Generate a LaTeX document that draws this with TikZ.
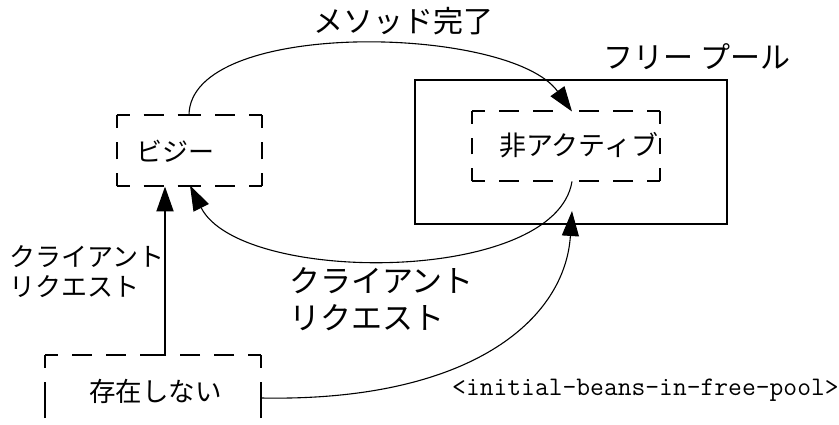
\documentclass[tikz,border=0pt]{standalone}
\usepackage{fontspec}
\setmainfont{Noto Sans CJK JP}
\usetikzlibrary{arrows.meta}
\tikzset{
  dbox/.style={minimum width=#1, inner sep=0pt, outer sep=0pt},
  dside/.style={line width=2pt, dash pattern=on 20pt off 14pt, dash phase=7pt},
  pool/.style={draw, line width=2pt, inner sep=0pt, outer sep=0pt},
  conn/.style={line width=1.1pt, -{Triangle[length=25pt,width=17pt]}},
  lbl/.style={inner sep=0pt, anchor=west},
  jp/.style={font=\fontsize{26pt}{30pt}\selectfont},
  jpbig/.style={font=\fontsize{31pt}{37pt}\selectfont},
  mono/.style={font=\ttfamily\fontsize{26.8pt}{28pt}\selectfont},
}
\begin{document}
\begin{tikzpicture}[x=1pt,y=-1pt]
\clip (0,0) rectangle (839,425);
\fill[white] (0,0) rectangle (839,425);
% boxes
\node[dbox=145pt, minimum height=71pt] (busy) at (189,151) {};
\node[pool, minimum width=312pt, minimum height=144pt] (pool) at (571,152) {};
\node[dbox=188pt, minimum height=70pt] (inact) at (566,146.5) {};
\node[dbox=216pt, minimum height=90pt] (none) at (153,400) {};
% dashed outlines, drawn from every corner towards the middle of each side
\foreach \b in {busy,inact,none}{
  \draw[dside] (\b.north west) -- (\b.north);
  \draw[dside] (\b.north east) -- (\b.north);
  \draw[dside] (\b.south west) -- (\b.south);
  \draw[dside] (\b.south east) -- (\b.south);
  \draw[dside] (\b.north west) -- (\b.west);
  \draw[dside] (\b.south west) -- (\b.west);
  \draw[dside] (\b.north east) -- (\b.east);
  \draw[dside] (\b.south east) -- (\b.east);
}
% texts
\node[lbl, jp] (tbusy) at (136,151) {ビジー};
\node[lbl, font=\fontsize{27pt}{30pt}\selectfont] (tinact) at (499,145) {非アクティブ};
\node[lbl, font=\fontsize{26.5pt}{30pt}\selectfont] (tnone) at (89,391) {存在しない};
\node[inner sep=0pt, font=\fontsize{30pt}{32pt}\selectfont] (tpool) at (697,57) {フリー プール};
\node[inner sep=0pt, font=\fontsize{30pt}{37pt}\selectfont] (tdone) at (403,21) {メソッド完了};
\node[lbl, jp, align=left] (tleft) at (9,272) {クライアント\\リクエスト};
\node[lbl, jpbig, align=left] (tbig) at (289,299) {クライアント\\リクエスト};
\node[lbl, mono] (tinit) at (452,390) {<initial-beans-in-free-pool>};
% connectors
\draw[conn] (busy.north) .. controls (189,18) and (510,25) .. ([xshift=6pt]inact.north);
\draw[conn] ([xshift=6pt]inact.south) .. controls (555,285) and (240,285) .. ([xshift=1pt,yshift=1pt]busy.south);
\draw[conn] ([yshift=2pt]none.east) .. controls (470,402) and (565,320) .. ([xshift=1pt,yshift=13pt]pool.south);
\draw[conn, line width=2pt] ([xshift=12pt]none.north) -- ([xshift=-24pt]busy.south);
\end{tikzpicture}
\end{document}
